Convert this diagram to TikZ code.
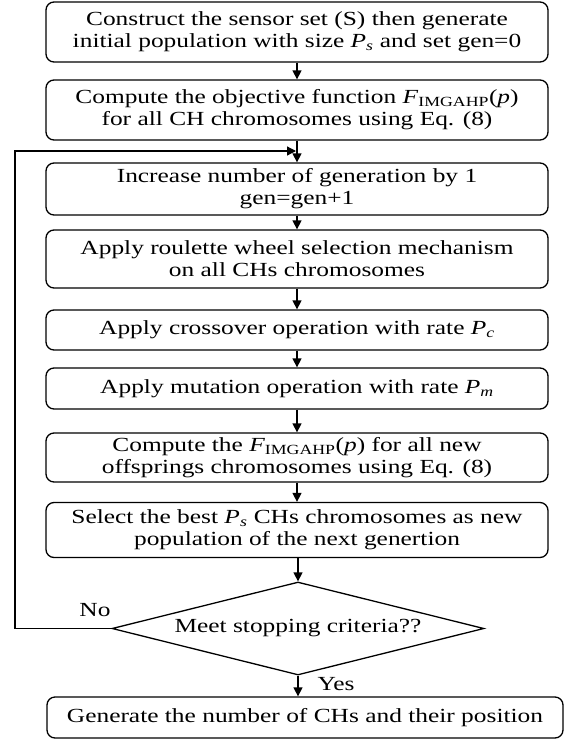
\documentclass[tikz,border=0pt]{standalone}
\usepackage{fontspec}
\setmainfont[FakeStretch=1.27]{Liberation Serif}
\usetikzlibrary{arrows.meta,shapes.geometric}
\newcommand\Pv[1]{\textit{P}\textsubscript{\textit{#1}}}
\newcommand\Fimg{\textit{F}\textsubscript{IMGAHP}(\textit{p})}
\tikzset{
  box/.style={draw, line width=1.3pt, rounded corners=8pt, inner sep=0pt,
    minimum width=502pt, align=center, font=\fontsize{20}{22}\selectfont},
  dec/.style={draw, line width=1.3pt, shape=diamond, aspect=4, inner sep=0pt,
    minimum width=372pt, minimum height=93pt, font=\fontsize{20}{22}\selectfont},
  lbl/.style={font=\fontsize{20}{22}\selectfont, inner sep=0pt},
  arr/.style={line width=1.3pt, -{Triangle[length=9pt,width=9pt]}}
}
\begin{document}
\begin{tikzpicture}[x=1pt,y=-1pt]
\useasboundingbox (0,0) rectangle (568,740);
\node[box, minimum height=60pt] (b1) at (297,32) {Construct the sensor set (S) then generate\\initial population with size \Pv{s} and set gen=0};
\node[box, minimum height=60pt] (b2) at (297,110) {Compute the objective function \Fimg\\for all CH chromosomes using Eq. (8)};
\node[box, minimum height=52pt] (b3) at (297,189) {Increase number of generation by 1\\gen=gen+1};
\node[box, minimum height=58pt] (b4) at (297,259) {Apply roulette wheel selection mechanism\\on all CHs chromosomes};
\node[box, minimum height=40pt] (b5) at (297,330) {Apply crossover operation with rate \Pv{c}};
\node[box, minimum height=41pt] (b6) at (297,388.5) {Apply mutation operation with rate \Pv{m}};
\node[box, minimum height=49pt] (b7) at (297,457.5) {Compute the \Fimg{} for all new\\offsprings chromosomes using Eq. (8)};
\node[box, minimum height=55pt] (b8) at (297,530) {Select the best \Pv{s} CHs chromosomes as new\\population of the next genertion};
\node[dec] (d) at (298,628.5) {Meet stopping criteria??};
\node[box, minimum width=516pt, minimum height=41pt] (last) at (305,717.5) {Generate the number of CHs and their position};
\node[lbl] (no) at (95,610) {No};
\node[lbl] (yes) at (336,684) {Yes};
\coordinate (loopend) at (296,151);
\coordinate (corner) at (15,628.5);
\draw[arr] (b1) -- (b2);
\draw[arr] (b2) -- (b3);
\draw[arr] (b3) -- (b4);
\draw[arr] (b4) -- (b5);
\draw[arr] (b5) -- (b6);
\draw[arr] (b6) -- (b7);
\draw[arr] (b7) -- (b8);
\draw[arr] (b8.south) -- (b8.south -| d.north) -- (d.north);
\draw[arr] (d.south) -- (d.south |- last.north);
\draw[arr] (d.west) -- (corner) |- (loopend);
\end{tikzpicture}
\end{document}
